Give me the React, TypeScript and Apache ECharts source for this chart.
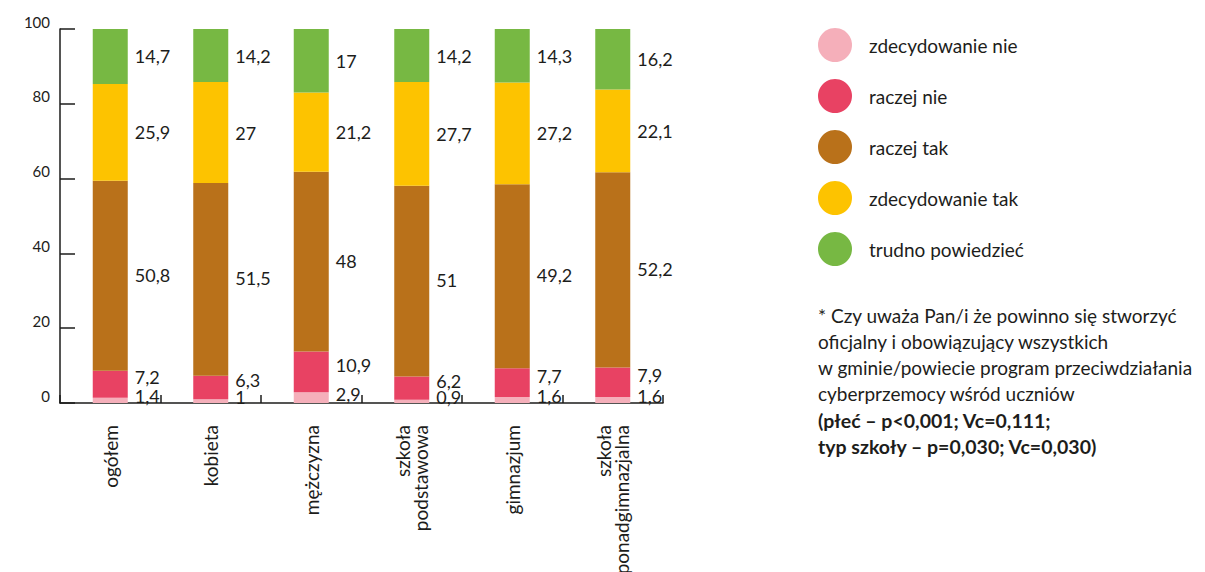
import React, { useEffect, useRef } from "react";
import * as echarts from "echarts";

const categories = [
  "ogółem",
  "kobieta",
  "mężczyzna",
  "szkoła\npodstawowa",
  "gimnazjum",
  "szkoła\nponadgimnazjalna",
];

const seriesNames = [
  "zdecydowanie nie",
  "raczej nie",
  "raczej tak",
  "zdecydowanie tak",
  "trudno powiedzieć",
];

const zdecydowanieNie = [1.4, 1, 2.9, 0.9, 1.6, 1.6];
const raczejNie = [7.2, 6.3, 10.9, 6.2, 7.7, 7.9];
const raczejTak = [50.8, 51.5, 48, 51, 49.2, 52.2];
const zdecydowanieTak = [25.9, 27, 21.2, 27.7, 27.2, 22.1];
const trudnoPowiedziec = [14.7, 14.2, 17, 14.2, 14.3, 16.2];

const yTicks = [0, 20, 40, 60, 80, 100];

const noteLines = [
  { text: "* Czy uważa Pan/i że powinno się stworzyć", bold: false },
  { text: "oficjalny i obowiązujący wszystkich", bold: false },
  { text: "w gminie/powiecie program przeciwdziałania", bold: false },
  { text: "cyberprzemocy wśród uczniów", bold: false },
  { text: "(płeć – p<0,001; Vc=0,111;", bold: true },
  { text: "typ szkoły – p=0,030; Vc=0,030)", bold: true },
];

const colors = ["#F5AFBA", "#E84263", "#B9711A", "#FDC300", "#77B843"];
const FONT = "Lato, 'Noto Sans', sans-serif";
const TEXT = "#1d1d1b";

export default function App() {
  const ref = useRef<HTMLDivElement>(null);

  useEffect(() => {
    if (!ref.current) return;
    const chart = echarts.init(ref.current, null, { renderer: "svg" });
    const allData = [zdecydowanieNie, raczejNie, raczejTak, zdecydowanieTak, trudnoPowiedziec];
    const offsets = [
      [0, -4],
      [0, -7],
      [0, -1],
      [0, 0],
      [0, 0],
    ];
    const fmt = (p: any) => String(p.value).replace(".", ",");
    chart.setOption({
      animation: false,
      textStyle: { fontFamily: FONT, color: TEXT },
      grid: {
        left: 60,
        right: 542,
        top: 29,
        bottom: 169,
        containLabel: false,
        outerBoundsMode: "none",
      },
      legend: {
        orient: "vertical",
        left: 818,
        top: 28,
        padding: 0,
        itemWidth: 34,
        itemHeight: 34,
        itemGap: 17,
        icon: "circle",
        data: seriesNames,
        textStyle: { fontSize: 19, color: TEXT, fontFamily: FONT, padding: [0, 0, 0, 12] },
        selectedMode: false,
      },
      xAxis: {
        type: "category",
        data: categories,
        boundaryGap: true,
        axisLine: { show: true, lineStyle: { color: TEXT, width: 1.5 } },
        axisTick: { show: true, inside: true, length: 8, interval: 0, lineStyle: { color: TEXT, width: 1.5 } },
        axisLabel: {
          rotate: 90,
          interval: 0,
          margin: 22,
          fontSize: 19,
          lineHeight: 18,
          color: TEXT,
          fontFamily: FONT,
          hideOverlap: false,
        },
      },
      yAxis: {
        type: "value",
        min: 0,
        max: 100,
        interval: 20,
        splitLine: { show: false },
        axisLine: { show: true, lineStyle: { color: TEXT, width: 1.5 } },
        axisTick: { show: true, inside: true, length: 15, lineStyle: { color: TEXT, width: 1.5 } },
        axisLabel: {
          margin: 10,
          fontSize: 15,
          lineHeight: 15,
          verticalAlign: "bottom",
          color: TEXT,
          fontFamily: FONT,
          formatter: (v: number) => (yTicks.includes(v) ? String(v) : ""),
        },
      },
      series: seriesNames.map((name, i) => ({
        name,
        type: "bar",
        stack: "total",
        barWidth: 35,
        data: allData[i],
        itemStyle: { color: colors[i] },
        label: {
          show: true,
          position: "right",
          distance: 7,
          offset: offsets[i],
          fontSize: 18,
          color: TEXT,
          fontFamily: FONT,
          formatter: fmt,
        },
      })),
      graphic: noteLines.map((l, i) => ({
        type: "text",
        left: 818,
        top: 306 + i * 26,
        style: {
          text: l.text,
          fontSize: l.bold ? 19.5 : 19,
          fontWeight: l.bold ? "bold" : "normal",
          fontFamily: FONT,
          fill: TEXT,
        },
      })),
    });
    return () => chart.dispose();
  }, []);

  return (
    <div
      ref={ref}
      style={{ position: "fixed", left: 0, top: 0, width: 1205, height: 572, background: "#fff" }}
    />
  );
}
